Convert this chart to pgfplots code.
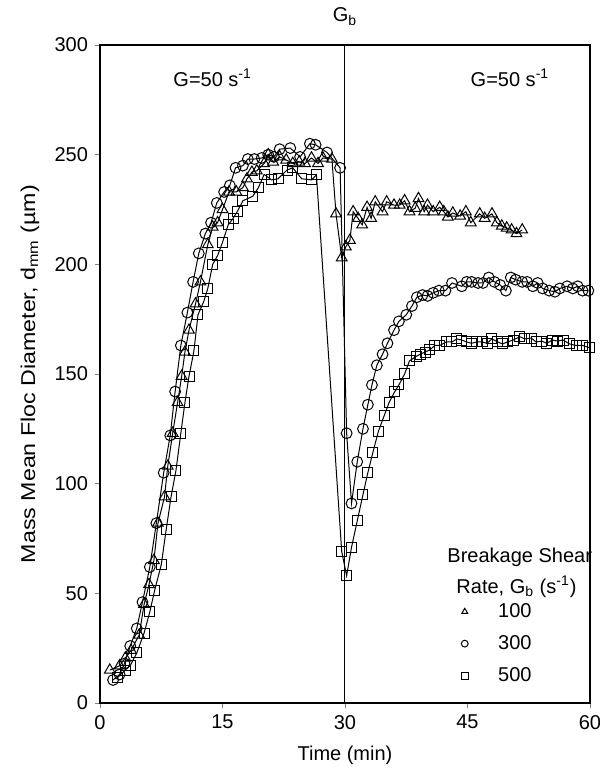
\documentclass[border=0pt]{standalone}
\usepackage{fontspec}
\setmainfont{Liberation Sans}
\usepackage{graphicx}
\usepackage{pgfplots}
\pgfplotsset{compat=1.18}
\newcommand\fs{\fontsize{10}{12}\selectfont}
\begin{document}
\begin{tikzpicture}
\begin{axis}[
  scale only axis, width=245pt, height=329pt,
  xmin=0, xmax=60, ymin=0, ymax=300,
  xtick={0,15,30,45,60}, ytick={0,50,...,300},
  tick align=outside, tick pos=left, major tick length=2.5pt,
  /pgf/number format/assume math mode=true,
  tick label style={font=\fs},
  label style={font=\fs},
  xlabel={Time (min)},
  ylabel={\scalebox{1.16}[1]{Mass Mean Floc Diameter, d\textsubscript{mm} (µm)}},
  xlabel style={at={(axis description cs:0.5,-0.079)}, anchor=center},
  ylabel style={at={(axis description cs:-0.143,0.5)}, anchor=center},
  clip=false,
  axis line style={line width=0.6pt},
  every axis plot/.append style={line width=0.5pt, black},
  legend style={font=\fs, draw=none, fill=none, at={(axis cs:44.2,47.5)}, anchor=north west, row sep=3.5pt, inner sep=0pt},
  legend cell align=left,
  legend image code/.code={\draw[#1, mark size=1.7pt] plot coordinates {(0.15cm,0cm)};},
  /tikz/every odd column/.style={column sep=13pt},
]
\addplot[black, no marks, forget plot] coordinates {(30,0) (30,300)};
% Gb = 100 (triangles)
\addplot[mark=triangle, mark size=3.1pt] coordinates {
(1.2,15) (2.4,17) (3.1,20.5) (3.8,24) (4.8,31) (5.4,45) (6.0,54) (6.6,65) (7.1,82) (7.9,94)
(8.3,108) (8.9,123) (9.5,137) (10.0,149) (10.4,160) (10.9,170) (11.7,182) (12.3,192) (13.2,209) (13.8,217)
(14.4,219) (15.0,225) (15.8,233) (16.7,233) (17.5,235) (18.0,239) (18.6,242) (19.2,242.6) (20.1,246) (20.6,250)
(21.2,246.7) (22.0,249) (22.8,247.6) (23.6,246) (24.4,246.7) (25.1,246) (25.9,248.5) (26.7,246) (27.3,248.5) (28.4,248)
(28.9,223) (29.6,203) (30.1,208) (30.6,211) (31.0,224) (31.6,221) (32.1,218) (32.7,226) (33.2,221) (33.7,228.5)
(34.6,224) (35.1,228.5) (36.0,227) (36.7,227) (37.3,229) (37.9,224) (38.6,225.6) (39.0,230) (39.7,224) (40.1,227)
(40.8,224) (41.6,226) (42.1,224) (42.6,221.6) (43.2,223.4) (44.1,222) (44.8,224) (45.4,219) (46.5,223) (47.1,221)
(48.0,223) (48.6,219) (49.2,217.5) (49.8,216.6) (50.4,215.7) (51.0,214) (51.7,215.7)
};
\addlegendentry{100}
% Gb = 300 (circles)
\addplot[mark=o, mark size=2.7pt] coordinates {
(1.6,10.5) (2.4,13) (3.0,18) (3.7,26) (4.5,34) (5.2,46) (6.1,62) (6.9,82) (7.8,105) (8.6,122)
(9.2,142) (9.9,163) (10.7,178) (11.4,192) (12.1,205) (12.9,214) (13.6,219) (14.3,228) (15.2,233) (15.9,236)
(16.6,244) (17.5,245) (18.1,248) (18.9,248) (19.8,248.5) (20.6,250) (21.3,249) (22.0,252.5) (23.3,253) (24.5,249)
(25.7,255) (26.4,254.5) (27.8,251) (29.4,244) (30.2,123) (30.8,91) (31.5,110) (32.2,125) (32.8,136) (33.3,145)
(33.9,154) (34.6,159) (35.2,164) (36.0,170) (36.6,174) (37.5,177) (38.2,181) (38.8,185) (39.5,186) (40.1,185.6)
(40.8,187) (41.5,188) (42.3,188) (43.1,191.5) (44.3,190) (44.9,192) (45.5,192) (46.3,191.5) (46.9,191.5) (47.6,194)
(48.3,192) (49.0,190.6) (49.7,188) (50.3,194) (50.9,193) (51.7,192) (52.3,192) (53.0,190) (53.6,191.5) (54.2,189)
(55.0,188) (55.7,187.5) (56.3,189) (57.2,190) (57.9,189) (58.5,190) (59.1,188) (59.8,188)
};
\addlegendentry{300}
% Gb = 500 (squares)
\addplot[mark=square, mark size=2.5pt] coordinates {
(2.1,11.4) (3.1,15) (3.7,17) (4.5,22.8) (5.4,31.9) (6.1,41.5) (6.7,51.5) (7.5,63) (8.1,79) (8.7,94)
(9.3,106) (9.9,123) (10.4,137) (10.9,149) (11.5,160.5) (12.0,177) (12.7,183) (13.2,189) (13.8,200) (14.4,204)
(15.0,210) (15.7,218) (16.3,221) (16.8,224) (17.5,229) (18.7,231) (19.4,235) (20.1,241) (21.0,238.5) (21.8,239)
(22.9,243) (23.6,244) (24.7,239) (25.9,238.5) (26.5,240.8) (29.6,69) (30.2,58) (30.8,71) (31.5,83) (32.2,95)
(32.8,105) (33.4,114) (34.1,124) (34.8,131) (35.4,137) (36.1,142) (36.6,145) (37.3,150) (37.9,156) (38.7,158)
(39.2,159) (39.8,160) (40.4,161) (41.0,163) (41.6,163) (42.4,164.6) (43.1,164.6) (43.7,166) (44.3,165.5) (44.9,164.6)
(45.5,164) (46.1,164.6) (46.8,164.6) (47.4,164) (48.0,166) (48.7,164.6) (49.3,163.7) (49.9,164.6) (50.6,165.5) (51.4,167)
(52.0,166) (52.8,166.4) (53.4,164.6) (54.1,165) (54.7,164) (55.4,165.5) (56.0,165) (56.7,165.5) (57.5,163.7) (58.3,163)
(59.1,163) (59.9,162)
};
\addlegendentry{500}
\node[font=\fs] at (axis cs:13.8,285) {G=50 s\textsuperscript{-1}};
\node[font=\fs] at (axis cs:50.2,285) {G=50 s\textsuperscript{-1}};
\node[font=\fs] at (axis cs:30,313) {G\textsubscript{b}};
\node[font=\fs] at (axis cs:51.4,66.5) {Breakage Shear};
\node[font=\fs] at (axis cs:51.0,53) {Rate, G\textsubscript{b} (s\textsuperscript{-1})};
\end{axis}
\pgfresetboundingbox
\path (-50pt,-37.5pt) rectangle (250pt,351.5pt);
\end{tikzpicture}
\end{document}
